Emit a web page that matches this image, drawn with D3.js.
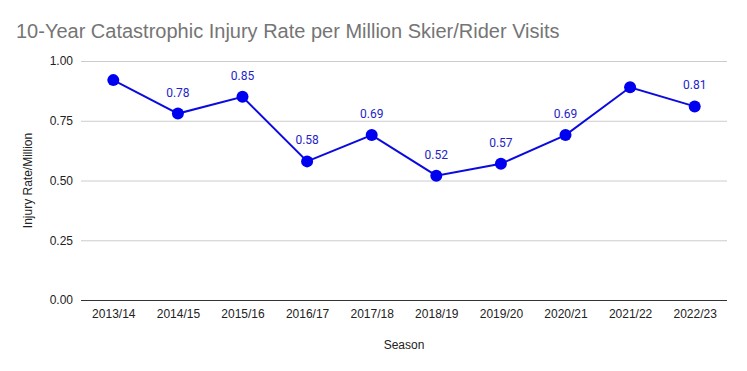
<script src="https://d3js.org/d3.v7.min.js"></script>
<style>
  body { margin: 0; background: #fff; }
  text { font-family: "Liberation Sans", Arial, sans-serif; }
</style>
<div id="chart"></div>
<script>
    // data
    let seasons = ["2013/14", "2014/15", "2015/16", "2016/17", "2017/18",
                   "2018/19", "2019/20", "2020/21", "2021/22", "2022/23"];
    let rates = [0.92, 0.78, 0.85, 0.58, 0.69, 0.52, 0.57, 0.69, 0.89, 0.81];
    // the reference leaves out labels on two points
    let showLabel = [false, true, true, true, true, true, true, true, false, true];
    let yTicks = [0, 0.25, 0.5, 0.75, 1];

    let W = 747, H = 371;
    let margin = {top: 61, right: 20, bottom: 71, left: 81},
        width = W - margin.left - margin.right,
        height = H - margin.top - margin.bottom;

    let svg = d3.select("#chart").append("svg")
        .attr("width", W).attr("height", H);

    svg.append("text")
        .attr("x", 16).attr("y", 38)
        .attr("fill", "#757575")
        .style("font-size", "20px")
        .text("10-Year Catastrophic Injury Rate per Million Skier/Rider Visits");

    let g = svg.append("g")
        .attr("transform", "translate(" + margin.left + "," + margin.top + ")");

    let x = d3.scalePoint().domain(seasons).range([0, width]).padding(0.5);
    let y = d3.scaleLinear().domain([0, 1]).range([height, 0]);

    // grid + y labels
    let yAxis = g.append("g")
        .call(d3.axisLeft(y).tickValues(yTicks).tickFormat(d3.format(".2f"))
            .tickSize(-width).tickPadding(8));
    yAxis.select(".domain").remove();
    yAxis.selectAll(".tick line").attr("stroke", "#cccccc");
    yAxis.selectAll(".tick text").attr("fill", "#222").style("font-size", "12px")
        .style("font-family", "Liberation Sans, Arial, sans-serif");

    // x axis
    let xAxis = g.append("g")
        .attr("transform", "translate(0," + height + ")")
        .call(d3.axisBottom(x).tickSize(0).tickPadding(9));
    xAxis.select(".domain").attr("stroke", "#333").attr("d", "M0,0.5H" + width);
    xAxis.selectAll(".tick text").attr("fill", "#222").style("font-size", "12px")
        .style("font-family", "Liberation Sans, Arial, sans-serif");

    // axis titles
    svg.append("text")
        .attr("x", margin.left + width / 2).attr("y", 349)
        .attr("text-anchor", "middle")
        .attr("fill", "#222")
        .style("font-size", "12px")
        .text("Season");

    svg.append("text")
        .attr("transform", "translate(32," + (margin.top + height / 2) + ") rotate(-90)")
        .attr("text-anchor", "middle")
        .attr("fill", "#222")
        .style("font-size", "12px")
        .text("Injury Rate/Million");

    let points = rates.map(function(d, i) {
        return {season: seasons[i], value: d, label: showLabel[i]};
    });

    // line
    let line = d3.line()
        .x(function(d) { return x(d.season); })
        .y(function(d) { return y(d.value); });

    g.append("path")
        .datum(points)
        .attr("fill", "none")
        .attr("stroke", "#0b0be0")
        .attr("stroke-width", 2)
        .attr("d", line);

    g.selectAll("circle")
        .data(points)
        .enter()
        .append("circle")
        .attr("cx", function(d) { return x(d.season); })
        .attr("cy", function(d) { return y(d.value); })
        .attr("r", 6)
        .attr("fill", "#0000f0");

    g.selectAll(".lbl")
        .data(points.filter(function(d) { return d.label; }))
        .enter()
        .append("text")
        .attr("class", "lbl")
        .attr("x", function(d) { return x(d.season); })
        .attr("y", function(d) { return y(d.value) - 17; })
        .attr("text-anchor", "middle")
        .attr("fill", "#2323c8")
        .style("font-size", "12px")
        .style("font-family", "Roboto, sans-serif")
        .text(function(d) { return d3.format(".2f")(d.value); });
</script>
